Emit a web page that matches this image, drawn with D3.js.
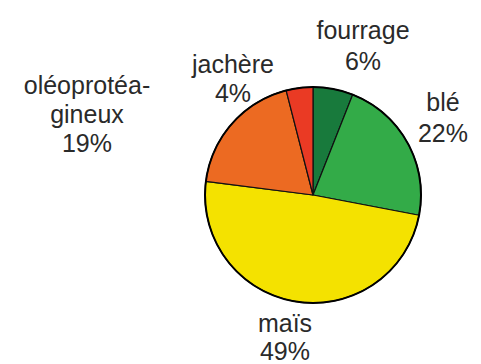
<!DOCTYPE html>
<html>
<head>
<meta charset="utf-8">
<script src="https://cdn.jsdelivr.net/npm/d3@7/dist/d3.min.js"></script>
<style>
  html, body { margin: 0; padding: 0; background: #ffffff; }
  svg { display: block; }
  text { font-family: "Liberation Sans", Arial, sans-serif; }
</style>
</head>
<body>
<svg id="chart" width="481" height="364"></svg>
<script>
// Land use shares (percent), clockwise from 12 o'clock
const categories = ["fourrage", "blé", "maïs", "oléoprotéagineux", "jachère"];
const values = [6, 22, 49, 19, 4];
// Label text, split over lines as displayed
const labelLines = [["fourrage"], ["blé"], ["maïs"], ["oléoprotéa-", "gineux"], ["jachère"]];

// Presentation
const colors = ["#187a3c", "#33ab48", "#f4e200", "#ec6a22", "#ea3a24"];
const cx = 313, cy = 195, radius = 108;
// label block anchor (centre x, first baseline y) and line spacing per slice
const labelPos = [
  { x: 363, y: 39, lh: 31 },
  { x: 443, y: 111, lh: 31 },
  { x: 285, y: 332, lh: 28 },
  { x: 87, y: 94, lh: 29 },
  { x: 233, y: 73, lh: 29 }
];

const svg = d3.select("#chart");
const data = categories.map((c, i) => ({ name: c, value: values[i], lines: labelLines[i], i }));

const pie = d3.pie().sort(null).value(d => d.value);
const arc = d3.arc().innerRadius(0).outerRadius(radius);
const color = d3.scaleOrdinal().domain(categories).range(colors);
const pct = d => d3.format(".0f")(d.value) + "%";

const g = svg.append("g").attr("transform", `translate(${cx},${cy})`);

g.selectAll("path.slice")
  .data(pie(data))
  .join("path")
  .attr("class", "slice")
  .attr("d", arc)
  .attr("fill", d => color(d.data.name))
  .attr("stroke", "#111")
  .attr("stroke-width", 1.2)
  .attr("stroke-linejoin", "round");

// outer rim
g.append("circle")
  .attr("r", radius)
  .attr("fill", "none")
  .attr("stroke", "#000")
  .attr("stroke-width", 2);

// labels: name lines followed by the percentage
const labels = svg.selectAll("text.label")
  .data(data)
  .join("text")
  .attr("class", "label")
  .attr("text-anchor", "middle")
  .attr("font-size", 25)
  .attr("fill", "#2a2a2a");

labels.each(function (d) {
  const p = labelPos[d.i];
  const lines = d.lines.concat([pct(d)]);
  d3.select(this).selectAll("tspan")
    .data(lines)
    .join("tspan")
    .attr("x", p.x)
    .attr("y", (l, k) => p.y + k * p.lh)
    .text(l => l);
});
</script>
</body>
</html>
